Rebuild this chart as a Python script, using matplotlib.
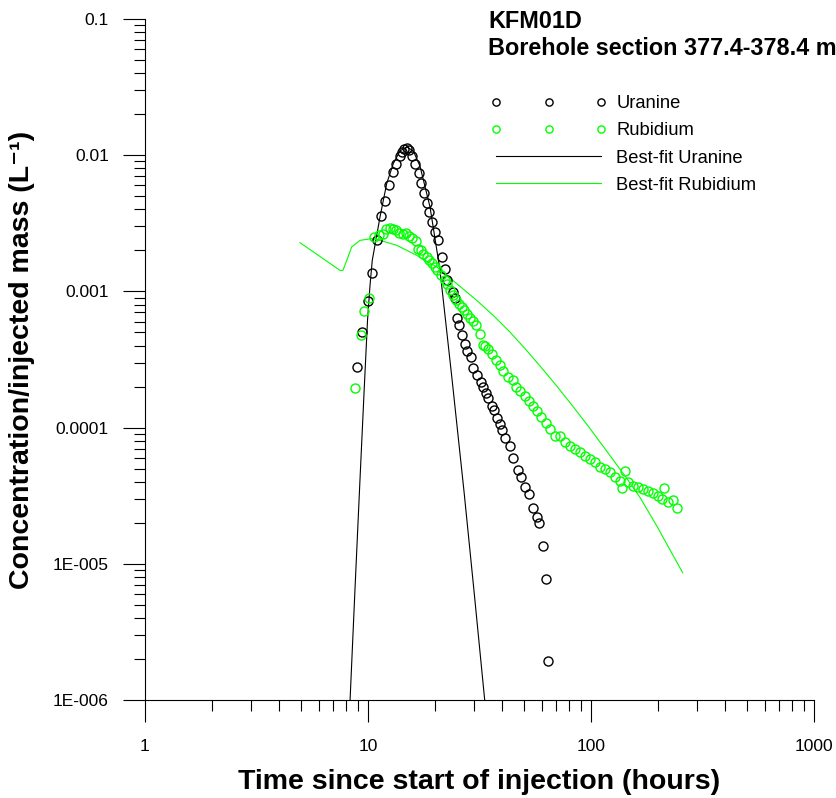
import matplotlib
matplotlib.use('Agg')
import matplotlib.pyplot as plt
from matplotlib.ticker import FixedLocator, FixedFormatter, LogLocator, NullFormatter

plt.rcParams['font.family'] = ['Liberation Sans', 'DejaVu Sans']

# Measured breakthrough, Uranine (hours, L^-1)
uranine_t = [8.95, 9.43, 9.95, 10.42, 11.0, 11.44, 11.92, 12.42, 12.9, 13.4,
             13.87, 14.2, 14.5, 14.91, 15.31, 15.75, 16.3, 16.88, 17.29, 17.89,
             18.34, 18.84, 19.43, 19.91, 20.66, 21.4, 22.14, 22.54, 23.98, 24.68,
             24.99, 25.71, 26.4, 27.23, 27.88, 28.9, 29.72, 30.8, 31.96, 32.8,
             33.7, 34.6, 35.8, 36.7, 37.9, 38.9, 39.7, 41.0, 43.2, 44.8,
             46.9, 48.7, 50.8, 52.5, 54.95, 57.1, 58.6, 60.9, 62.6, 64.2]
uranine_c = [2.77e-4, 5.02e-4, 8.44e-4, 1.37e-3, 2.37e-3, 3.56e-3, 4.59e-3, 6.09e-3, 7.54e-3, 8.55e-3,
             9.88e-3, 1.047e-2, 1.107e-2, 1.12e-2, 1.089e-2, 9.84e-3, 8.69e-3, 7.34e-3, 6.26e-3, 5.32e-3,
             4.46e-3, 3.83e-3, 3.23e-3, 2.73e-3, 2.37e-3, 1.79e-3, 1.47e-3, 1.205e-3, 9.88e-4, 8.96e-4,
             6.41e-4, 5.67e-4, 4.79e-4, 4.11e-4, 3.68e-4, 3.31e-4, 2.75e-4, 2.45e-4, 2.16e-4, 1.97e-4,
             1.79e-4, 1.64e-4, 1.45e-4, 1.345e-4, 1.185e-4, 1.065e-4, 9.64e-5, 8.4e-5, 7.31e-5, 6.0e-5,
             4.89e-5, 4.31e-5, 3.64e-5, 3.26e-5, 2.59e-5, 2.19e-5, 2.01e-5, 1.34e-5, 7.72e-6, 1.94e-6]

# Measured breakthrough, Rubidium
rubidium_t = [8.70, 9.27, 9.63, 10.13, 10.64, 11.24, 11.64, 12.1, 12.55, 12.99,
              13.42, 13.82, 14.31, 14.81, 15.32, 15.75, 16.41, 16.81, 17.23, 17.7,
              18.34, 18.84, 19.36, 19.97, 20.45, 21.26, 22.14, 22.68, 23.32, 23.98,
              24.81, 25.51, 26.32, 26.95, 27.71, 28.67, 29.67, 30.41, 31.79, 32.89,
              33.5, 34.63, 35.87, 37.5, 39.08, 40.45, 42.56, 44.56, 46.1, 48.05,
              50.58, 52.9, 55.1, 57.4, 59.7, 62.8, 65.5, 69.0, 72.6, 76.4,
              80.5, 84.8, 89.3, 94.0, 99.0, 104.2, 109.7, 115.6, 121.6, 128.1,
              134.9, 137.3, 142.1, 147.0, 154.8, 163.0, 171.6, 180.7, 190.3, 200.4,
              207.5, 212.5, 222.2, 233.9, 243.8]
rubidium_c = [1.945e-4, 4.75e-4, 7.16e-4, 8.93e-4, 2.49e-3, 2.58e-3, 2.66e-3, 2.86e-3, 2.93e-3, 2.89e-3,
              2.81e-3, 2.70e-3, 2.62e-3, 2.68e-3, 2.54e-3, 2.47e-3, 2.34e-3, 2.06e-3, 2.0e-3, 1.87e-3,
              1.79e-3, 1.69e-3, 1.62e-3, 1.51e-3, 1.43e-3, 1.31e-3, 1.205e-3, 1.126e-3, 1.017e-3, 9.35e-4,
              8.69e-4, 8.12e-4, 7.66e-4, 7.25e-4, 6.78e-4, 6.37e-4, 6.02e-4, 5.62e-4, 4.83e-4, 4.01e-4,
              3.94e-4, 3.79e-4, 3.48e-4, 3.15e-4, 2.9e-4, 2.59e-4, 2.37e-4, 2.22e-4, 2.0e-4, 1.87e-4,
              1.72e-4, 1.58e-4, 1.43e-4, 1.33e-4, 1.19e-4, 1.075e-4, 9.78e-5, 8.73e-5, 8.73e-5, 7.8e-5,
              7.38e-5, 6.97e-5, 6.58e-5, 6.22e-5, 5.89e-5, 5.56e-5, 5.16e-5, 4.97e-5, 4.69e-5, 4.36e-5,
              4.07e-5, 3.6e-5, 4.77e-5, 3.96e-5, 3.75e-5, 3.64e-5, 3.54e-5, 3.44e-5, 3.29e-5, 3.16e-5,
              2.99e-5, 3.6e-5, 2.82e-5, 2.94e-5, 2.59e-5]

# Model fits
fit_uranine_t = [8.31, 8.744, 9.21, 9.60, 9.95, 10.21, 10.45, 11.32, 12.13, 12.99, 13.92, 14.91,
                 15.96, 17.11, 18.97, 21.03, 23.8, 26.95, 29.87, 33.5]
fit_uranine_c = [1.0e-6, 6.55e-6, 4.22e-5, 1.81e-4, 6.12e-4, 1.107e-3, 1.69e-3, 3.52e-3, 6.19e-3, 8.69e-3,
                 1.076e-2, 1.151e-2, 1.076e-2, 8.3e-3, 4.17e-3, 1.43e-3, 2.29e-4, 3.4e-5, 6.35e-6, 9.35e-7]

fit_rubidium_t = [4.955, 7.49, 7.72, 8.03, 8.45, 9.21, 10.39, 11.32, 13.45, 16.54, 20.33,
                  24.99, 30.73, 36.35, 43.35, 50.6, 59.1, 69.7, 83.3, 99.0, 117.6, 144.5,
                  165.9, 197.1, 257.8]
fit_rubidium_c = [2.28e-3, 1.427e-3, 1.427e-3, 1.69e-3, 2.12e-3, 2.37e-3, 2.44e-3, 2.37e-3, 2.18e-3, 1.84e-3, 1.51e-3,
                  1.14e-3, 8.59e-4, 6.69e-4, 5.02e-4, 3.80e-4, 2.83e-4, 2.05e-4, 1.42e-4, 9.84e-5, 6.72e-5, 4.25e-5,
                  3.07e-5, 1.90e-5, 8.59e-6]

y_ticks = [1e-6, 1e-5, 1e-4, 1e-3, 1e-2, 1e-1]
y_labels = ['1E-006', '1E-005', '0.0001', '0.001', '0.01', '0.1']
x_ticks = [1, 10, 100, 1000]
x_labels = ['1', '10', '100', '1000']

green = '#00ff00'

fig = plt.figure(figsize=(8.37, 7.98), dpi=100)
ax = fig.add_axes([145 / 837, 1 - 700 / 798, 669 / 837, 681 / 798])

l_fu, = ax.plot(fit_uranine_t, fit_uranine_c, color='black', lw=0.8)
l_fr, = ax.plot(fit_rubidium_t, fit_rubidium_c, color=green, lw=0.8)
p_u, = ax.plot(uranine_t, uranine_c, 'o', ls='none', mfc='none', mec='black', ms=6.5, mew=1.0)
p_r, = ax.plot(rubidium_t, rubidium_c, 'o', ls='none', mfc='none', mec=green, ms=6.5, mew=1.0)

ax.set_xscale('log')
ax.set_yscale('log')
ax.set_xlim(1, 1000)
ax.set_ylim(1e-6, 0.1)

ax.xaxis.set_major_locator(FixedLocator(x_ticks))
ax.xaxis.set_major_formatter(FixedFormatter(x_labels))
ax.yaxis.set_major_locator(FixedLocator(y_ticks))
ax.yaxis.set_major_formatter(FixedFormatter(y_labels))
ax.xaxis.set_minor_locator(LogLocator(base=10, subs=range(2, 10), numticks=20))
ax.yaxis.set_minor_locator(LogLocator(base=10, subs=range(2, 10), numticks=20))
ax.xaxis.set_minor_formatter(NullFormatter())
ax.yaxis.set_minor_formatter(NullFormatter())

for s in ['top', 'right']:
    ax.spines[s].set_visible(False)
for s in ['left', 'bottom']:
    ax.spines[s].set_linewidth(0.8)

ax.tick_params(which='major', direction='out', length=16, width=0.8, labelsize=12.5, pad=10)
ax.tick_params(which='minor', direction='out', length=8, width=0.8)
ax.tick_params(axis='x', which='major', pad=12)

ax.set_xlabel('Time since start of injection (hours)', fontsize=20.5, fontweight='bold')
ax.set_ylabel('Concentration/injected mass (L⁻¹)', fontsize=20.5, fontweight='bold')
ax.xaxis.set_label_coords(0.5, -0.121)
ax.xaxis.label.set_va('center')
ax.yaxis.set_label_coords(-0.184, 0.5)
ax.yaxis.label.set_va('center')

fig.text(488 / 837, 1 - 28 / 798, 'KFM01D', fontsize=16.8, fontweight='bold', va='baseline')
fig.text(488 / 837, 1 - 55 / 798, 'Borehole section 377.4-378.4 m', fontsize=16.8,
         fontweight='bold', va='baseline')

fig.legend([p_u, p_r, l_fu, l_fr], ['Uranine', 'Rubidium', 'Best-fit Uranine', 'Best-fit Rubidium'],
           loc='upper left', bbox_to_anchor=(490.5 / 837, 1 - 95 / 798), frameon=False,
           fontsize=13.2, numpoints=3, markerscale=0.8, handlelength=6.34, handletextpad=0.52,
           labelspacing=0.56, borderpad=0, borderaxespad=0)

fig.savefig('out.png', dpi=100)
